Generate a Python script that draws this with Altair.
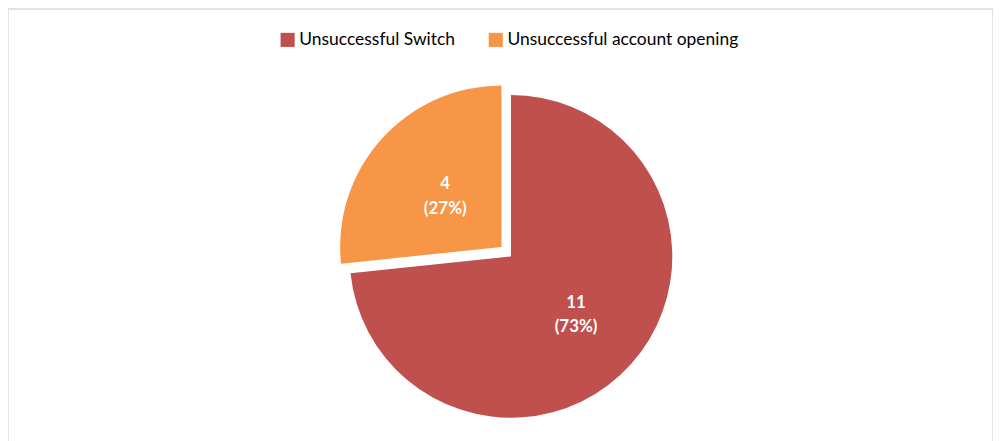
import math
import altair as alt
import pandas as pd

categories = ["Unsuccessful Switch", "Unsuccessful account opening"]
values = [11, 4]
colors = ["#C0504D", "#F79646"]

total = sum(values)
starts, ends, labels = [], [], []
acc = 0
for v in values:
    starts.append(acc / total * 2 * math.pi)
    acc += v
    ends.append(acc / total * 2 * math.pi)
    labels.append(f"{v}\n({round(v / total * 100)}%)")

df = pd.DataFrame({
    "category": categories,
    "value": values,
    "start": starts,
    "end": ends,
    "mid": [(s + e) / 2 for s, e in zip(starts, ends)],
    "label": labels,
})

R = 162
CX, CY = 505, 248.5
offsets = [(0, 0), (-9.5, -9.5)]
label_r = [88, 76]

color_scale = alt.Scale(domain=categories, range=colors)

layers = []
for i, cat in enumerate(categories):
    ox, oy = offsets[i]
    base = alt.Chart(df).transform_filter(alt.datum.category == cat)
    arc = base.mark_arc(radius=R, stroke=None).encode(
        theta=alt.Theta("start:Q", scale=None),
        theta2="end:Q",
        x=alt.value(CX + ox),
        y=alt.value(CY + oy),
        color=alt.Color(
            "category:N",
            scale=color_scale,
            legend=alt.Legend(
                title=None,
                orient="none",
                legendX=272,
                legendY=22,
                direction="horizontal",
                symbolType="square",
                symbolSize=200,
                symbolStrokeWidth=0,
                labelFont="Lato",
                labelFontSize=17.5,
                labelColor="#000000",
                labelLimit=500,
                columnPadding=32,
                symbolOffset=0,
                labelOffset=3,
            ) if i == 0 else None,
        ),
    )
    txt = base.mark_text(
        font="Lato", fontSize=17, fontWeight="bold", color="white",
        lineBreak="\n", baseline="middle", align="center", lineHeight=25, dy=-12.5,
    ).encode(
        theta=alt.Theta("mid:Q", scale=None),
        radius=alt.value(label_r[i]),
        x=alt.value(CX + ox),
        y=alt.value(CY + oy),
        text="label:N",
    )
    layers += [arc, txt]

chart = alt.layer(*layers).properties(
    width=989, height=440, padding=0
).configure_view(stroke="#D9D9D9", strokeWidth=1.5)

chart.save("out.html", embed_options={"renderer": "svg", "actions": False})
